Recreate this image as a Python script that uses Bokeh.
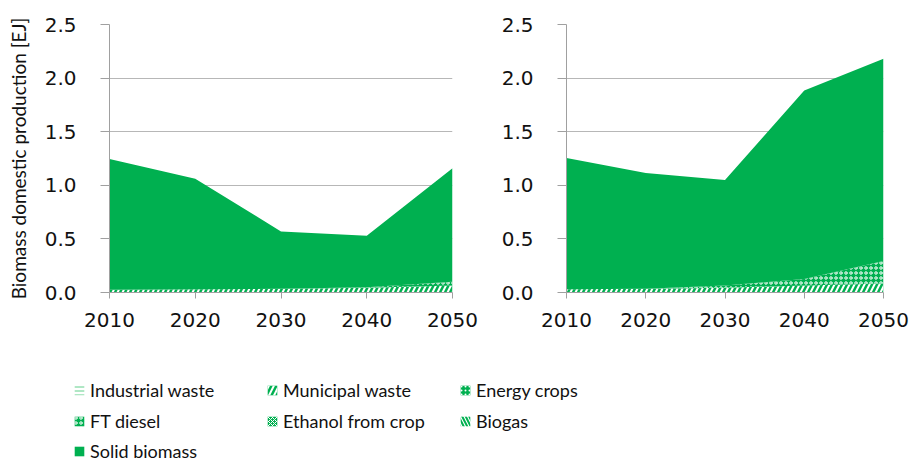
from bokeh.plotting import figure
from bokeh.layouts import column, row
from bokeh.models import (ColumnDataSource, Range1d, FixedTicker, PrintfTickFormatter,
                          Legend, LegendItem)
from bokeh.embed import file_html
from bokeh.resources import INLINE

years = [2010, 2020, 2030, 2040, 2050]
series_names = ["Industrial waste", "Municipal waste", "Energy crops", "FT diesel",
                "Ethanol from crop", "Biogas", "Solid biomass"]
series_keys = ["industrial", "municipal", "energy", "ftdiesel", "ethanol", "biogas", "solid"]
y_ticks = [0.0, 0.5, 1.0, 1.5, 2.0, 2.5]

# Left scenario (EJ)
left_industrial = [0.005, 0.005, 0.005, 0.005, 0.005]
left_municipal = [0.02, 0.025, 0.03, 0.04, 0.06]
left_energy = [0.0, 0.0, 0.0, 0.0, 0.0]
left_ftdiesel = [0.0, 0.0, 0.0, 0.005, 0.035]
left_ethanol = [0.0, 0.0, 0.0, 0.0, 0.0]
left_biogas = [0.0, 0.0, 0.0, 0.0, 0.0]
left_solid = [1.22, 1.03, 0.535, 0.48, 1.06]

# Right scenario (EJ)
right_industrial = [0.005, 0.005, 0.005, 0.005, 0.005]
right_municipal = [0.025, 0.03, 0.04, 0.06, 0.08]
right_energy = [0.0, 0.0, 0.0, 0.0, 0.0]
right_ftdiesel = [0.0, 0.0, 0.02, 0.06, 0.21]
right_ethanol = [0.0, 0.0, 0.0, 0.0, 0.0]
right_biogas = [0.0, 0.0, 0.0, 0.0, 0.0]
right_solid = [1.225, 1.08, 0.985, 1.76, 1.885]

GREEN = "#00B050"
fill_colors = ["white", GREEN, GREEN, GREEN, GREEN, "white", GREEN]
hatch_patterns = ["horizontal_line", "right_diagonal_line", "dot", "ring", "diagonal_cross",
                  "left_diagonal_line", None]
hatch_colors = ["#5fcf8a", "white", "white", "white", "white", GREEN, GREEN]
hatch_scales = [4, 10, 4, 5, 4, 7, 12]
hatch_weights = [1, 2, 1, 1, 1, 2, 1]

TICK_FONT = "DejaVu Sans"
TEXT_FONT = "Lato"


def make_plot(data, width, border_left, border_right, ylabel=None):
    src = ColumnDataSource(dict(year=years, **dict(zip(series_keys, data))))
    p = figure(width=width, height=340, x_range=Range1d(2010, 2050), y_range=Range1d(0, 2.5),
               output_backend="svg", toolbar_location=None,
               min_border_left=border_left, min_border_right=border_right,
               min_border_top=24, min_border_bottom=48)
    p.varea_stack(stackers=series_keys, x="year", source=src,
                  fill_color=fill_colors, hatch_pattern=hatch_patterns,
                  hatch_color=hatch_colors, hatch_scale=hatch_scales,
                  hatch_weight=hatch_weights)
    p.outline_line_color = None
    p.xgrid.visible = False
    p.ygrid.grid_line_color = "#b7b7b7"
    p.ygrid.grid_line_width = 1
    p.xaxis.ticker = FixedTicker(ticks=years)
    p.yaxis.ticker = FixedTicker(ticks=y_ticks)
    p.yaxis.formatter = PrintfTickFormatter(format="%.1f")
    for ax in (p.xaxis[0], p.yaxis[0]):
        ax.axis_line_color = "#a0a0a0"
        ax.major_tick_line_color = "#a0a0a0"
        ax.minor_tick_line_color = None
        ax.major_tick_in = 0
        ax.major_label_text_font = TICK_FONT
        ax.major_label_text_font_size = "20px"
        ax.major_label_text_color = "#111111"
    p.xaxis.major_tick_out = 6
    p.xaxis.major_label_standoff = 14
    p.yaxis.major_tick_out = 9
    p.yaxis.major_label_standoff = 24
    if ylabel:
        p.yaxis.axis_label = ylabel
        p.yaxis.axis_label_text_font = TEXT_FONT
        p.yaxis.axis_label_text_font_size = "19px"
        p.yaxis.axis_label_text_font_style = "normal"
        p.yaxis.axis_label_text_color = "#111111"
        p.yaxis.axis_label_standoff = 12
    return p


p1 = make_plot([left_industrial, left_municipal, left_energy, left_ftdiesel,
                left_ethanol, left_biogas, left_solid], 478, 109, 26,
               ylabel="Biomass domestic production [EJ]")
p2 = make_plot([right_industrial, right_municipal, right_energy, right_ftdiesel,
                right_ethanol, right_biogas, right_solid], 435, 88, 30)

# Legend panel (its renderers lie outside its visible range; only the legend shows)
pl = figure(width=913, height=123, x_range=Range1d(0, 1), y_range=Range1d(0, 1),
            x_axis_type=None, y_axis_type=None, output_backend="svg",
            toolbar_location=None, min_border=0)
pl.outline_line_color = None
pl.grid.visible = False
items = []
for i, name in enumerate(series_names):
    r = pl.varea(x=years, y1=left_solid, y2=right_solid, fill_color=fill_colors[i],
                 hatch_pattern=hatch_patterns[i], hatch_color=hatch_colors[i],
                 hatch_scale=hatch_scales[i], hatch_weight=hatch_weights[i])
    items.append(LegendItem(label=name, renderers=[r]))

rows_items = [items[0:3], items[3:6], items[6:7]]
row_bottoms = [62, 31, 1]
for its, yb in zip(rows_items, row_bottoms):
    leg = Legend(items=its, orientation="horizontal", location=(73, yb),
                 padding=0, margin=0, spacing=0, border_line_color=None,
                 background_fill_alpha=0, glyph_width=12, glyph_height=12,
                 label_standoff=5, label_width=176, label_height=22,
                 label_text_font=TEXT_FONT, label_text_font_size="18px",
                 label_text_color="#111111")
    pl.add_layout(leg)

layout = column(row(p1, p2), pl)
open("out.html", "w").write(file_html(layout, INLINE))
